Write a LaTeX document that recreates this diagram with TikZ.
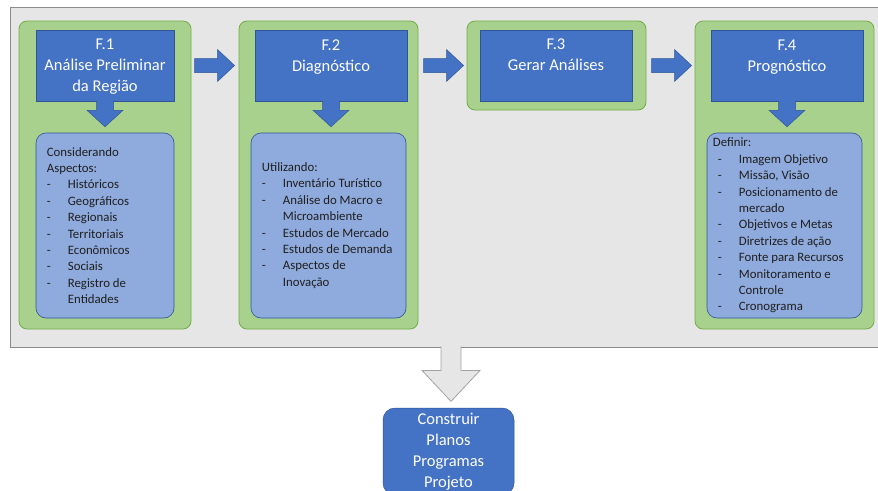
\documentclass[tikz,border=0pt]{standalone}
\usepackage{fontspec}
\setmainfont{Carlito}
\usetikzlibrary{positioning,calc}

\definecolor{azul}{HTML}{4472C4}
\definecolor{azulborda}{HTML}{2F5597}
\definecolor{azulclaro}{HTML}{8FAADC}
\definecolor{verde}{HTML}{A9D18E}
\definecolor{verdeborda}{HTML}{70AD47}
\definecolor{cinza}{HTML}{E7E6E6}
\definecolor{cinzaborda}{HTML}{8C8C8C}
\definecolor{texto}{HTML}{1F1F1F}

\newcommand{\marca}[1]{\makebox[21pt][l]{-}#1}
\newcommand{\recuo}{\hspace*{21pt}}

\begin{document}
\begin{tikzpicture}[x=1pt,y=-1pt,
    fundo/.style={draw=cinzaborda,fill=cinza,line width=0.8pt,inner sep=0pt},
    painel/.style={draw=verdeborda,fill=verde,rounded corners=8pt,line width=0.8pt,inner sep=0pt,minimum width=179pt,minimum height=308pt},
    fase/.style={draw=azulborda,fill=azul,line width=0.5pt,inner sep=0pt,minimum width=152pt,minimum height=71pt},
    lista/.style={draw=azulborda,fill=azulclaro,rounded corners=10pt,line width=0.6pt,inner sep=0pt,minimum width=155pt,minimum height=185pt},
    txfase/.style={text=white,align=center,inner sep=0pt,font=\fontsize{16.5}{21}\selectfont},
    txlista/.style={text=texto,align=left,inner sep=0pt,anchor=west,font=\fontsize{12.8}{16.4}\selectfont},
    seta/.style={draw=azulborda,fill=azul,line width=0.5pt},
    setacinza/.style={draw=cinzaborda!80,fill=cinza,line width=0.8pt}]

    \useasboundingbox (0,0) rectangle (878,490);

    \node[fundo,minimum width=880pt,minimum height=340pt] (fundo) at (450,177) {};

    % paineis das fases
    \node[painel,minimum width=172pt] (p1) at (105,175)   {};
    \node[painel]                     (p2) at (328.5,175) {};
    \node[painel,minimum height=89pt] (p3) at (556.5,65.5) {};
    \node[painel]                     (p4) at (784.5,175) {};

    \node[fase,minimum width=138pt] (f1) at (105,65.5) {};
    \node[fase]                     (f2) at (331,65.5) {};
    \node[fase]                     (f3) at (556,65.5) {};
    \node[fase]                     (f4) at (787,65.5) {};

    \node[txfase,below=9pt of f1.north] (t1) {F.1\\Análise Preliminar\\da Região};
    \node[txfase,below=10pt of f2.north] (t2) {F.2\\Diagnóstico};
    \node[txfase,below=9pt of f3.north] (t3) {F.3\\Gerar Análises};
    \node[txfase,below=10pt of f4.north] (t4) {F.4\\Prognóstico};

    \node[lista,minimum width=138pt] (l1) at (105,225.5)   {};
    \node[lista]                     (l2) at (328.5,225.5) {};
    \node[lista]                     (l4) at (784.5,225.5) {};

    \node[txlista] (c1) at ($(l1.west)+(11,0)$) {Considerando\\Aspectos:\\
        \marca{Históricos}\\\marca{Geográficos}\\\marca{Regionais}\\
        \marca{Territoriais}\\\marca{Econômicos}\\\marca{Sociais}\\
        \marca{Registro de}\\\recuo Entidades};
    \node[txlista] (c2) at ($(l2.west)+(11,0)$) {Utilizando:\\
        \marca{Inventário Turístico}\\\marca{Análise do Macro e}\\\recuo Microambiente\\
        \marca{Estudos de Mercado}\\\marca{Estudos de Demanda}\\
        \marca{Aspectos de}\\\recuo Inovação};
    \node[txlista] (c4) at ($(l4.west)+(11,0)$) {\hspace*{-5pt}Definir:\\
        \marca{Imagem Objetivo}\\\marca{Missão, Visão}\\\marca{Posicionamento de}\\\recuo mercado\\
        \marca{Objetivos e Metas}\\\marca{Diretrizes de ação}\\\marca{Fonte para Recursos}\\
        \marca{Monitoramento e}\\\recuo Controle\\\marca{Cronograma}};

    % setas entre as fases
    \draw[seta] ($(f1.east)!.5!(f2.west)$) ++(-20,-7) -- ++(23,0) -- ++(0,-9) -- ++(17,16) -- ++(-17,16) -- ++(0,-9) -- ++(-23,0) -- cycle;
    \draw[seta] ($(f2.east)!.5!(f3.west)$) ++(-20,-7) -- ++(23,0) -- ++(0,-9) -- ++(17,16) -- ++(-17,16) -- ++(0,-9) -- ++(-23,0) -- cycle;
    \draw[seta] ($(f3.east)!.5!(f4.west)$) ++(-20,-7) -- ++(23,0) -- ++(0,-9) -- ++(17,16) -- ++(-17,16) -- ++(0,-9) -- ++(-23,0) -- cycle;

    \draw[seta] (f1.south) ++(-8.5,-0.5) -- ++(0,9.5) -- ++(-9.5,0) -- ++(18,16.5) -- ++(18,-16.5) -- ++(-9.5,0) -- ++(0,-9.5);
    \draw[seta] (f2.south) ++(-8.5,-0.5) -- ++(0,9.5) -- ++(-9.5,0) -- ++(18,16.5) -- ++(18,-16.5) -- ++(-9.5,0) -- ++(0,-9.5);
    \draw[seta] (f4.south) ++(-8.5,-0.5) -- ++(0,9.5) -- ++(-9.5,0) -- ++(18,16.5) -- ++(18,-16.5) -- ++(-9.5,0) -- ++(0,-9.5);

    % resultado
    \node[fase,rounded corners=12pt,minimum width=131pt,minimum height=87pt,txfase,inner sep=0pt] (final) at (448.5,451.5)
        {Construir\\Planos\\Programas\\Projeto};
    \draw[setacinza] ($(fundo.south)+(1,0)$) ++(-10,-1) -- ++(0,24) -- ++(-19,0) -- ++(29,31) -- ++(29,-31) -- ++(-19,0) -- ++(0,-24);

\end{tikzpicture}
\end{document}
